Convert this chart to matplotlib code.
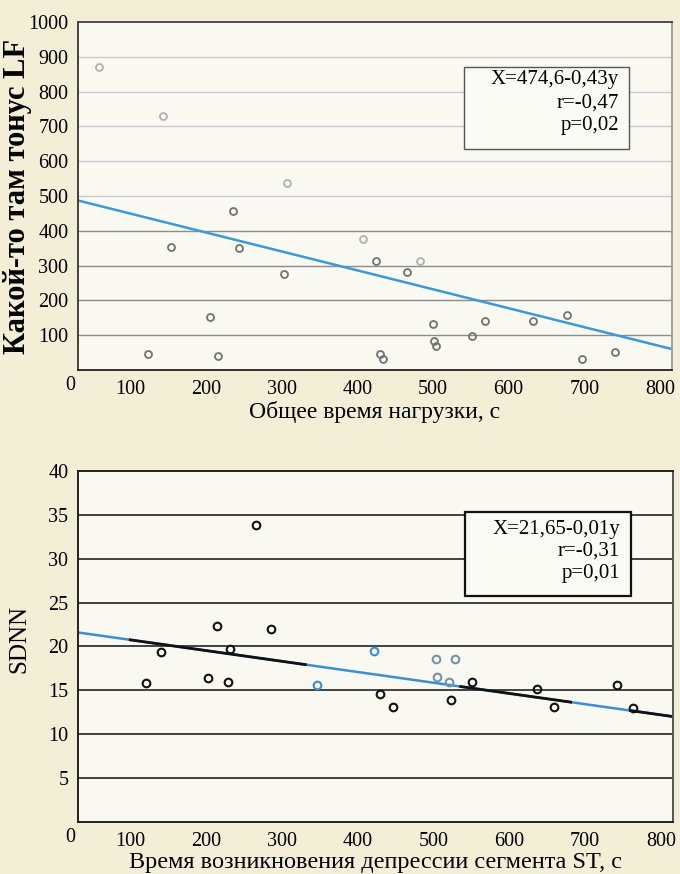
import matplotlib.pyplot as plt
from matplotlib.patches import Rectangle

# Top panel: total load time vs LF tone
load_time = [59, 144, 307, 236, 154, 244, 303, 206, 124, 216,
             408, 425, 483, 466, 500, 501, 504, 430, 434, 552,
             569, 632, 677, 697, 741]
lf_tone = [870, 729, 537, 457, 354, 351, 277, 151, 46, 40,
           377, 314, 314, 281, 131, 83, 69, 46, 31, 97,
           142, 142, 157, 31, 51]
lf_faint = [1, 1, 1, 0, 0, 0, 0, 0, 0, 0,
            1, 0, 1, 0, 0, 0, 0, 0, 0, 0,
            0, 0, 0, 0, 0]
top_trend_x = [31, 816]
top_trend_y = [487, 60]
top_text = "X=474,6-0,43y\nr=-0,47\np=0,02"

# Bottom panel: time of ST depression vs SDNN
st_time = [266, 214, 286, 140, 232, 121, 203, 229, 346, 421,
           503, 529, 505, 521, 551, 429, 447, 523, 637, 659,
           742, 763]
sdnn = [33.8, 22.3, 22.0, 19.4, 19.7, 15.8, 16.4, 15.95, 15.6, 19.5,
        18.6, 18.6, 16.5, 15.9, 15.9, 14.6, 13.1, 13.9, 15.2, 13.1,
        15.6, 13.0]
sdnn_group = [0, 0, 0, 0, 0, 0, 0, 0, 1, 1,
              2, 2, 2, 2, 0, 0, 0, 0, 0, 0,
              0, 0]
bottom_trend_x = [31, 817]
bottom_trend_y = [21.6, 12.0]
bottom_black_parts = [(100, 331), (536, 681), (760, 817)]
bottom_text = "X=21,65-0,01y\nr=-0,31\np=0,01"

plt.rcParams['font.family'] = ['Liberation Serif', 'DejaVu Serif']

fig = plt.figure(figsize=(6.8, 8.74), dpi=100)
fig.patch.set_facecolor('#f3eed6')

xticks = [100, 200, 300, 400, 500, 600, 700, 800]


def style_axes(ax, ylim, yticks):
    ax.set_facecolor('#f9f8f1')
    ax.set_xlim(31, 816)
    ax.set_ylim(*ylim)
    ax.set_xticks(xticks)
    ax.set_yticks(yticks)
    ax.tick_params(length=0, labelsize=14.5, pad=7)
    ax.annotate('0', xy=(0, 0), xycoords='axes fraction', xytext=(-2, -4),
                textcoords='offset points', ha='right', va='top', fontsize=14.5)


def trend_at(xs, ys, x):
    return ys[0] + (ys[1] - ys[0]) * (x - xs[0]) / (xs[1] - xs[0])


def stat_box(ax, rect, text_xy, text, edge, lw, spacing):
    ax.add_patch(Rectangle(rect[:2], rect[2], rect[3], transform=ax.transAxes,
                           fc='#fbfbf6', ec=edge, lw=lw, zorder=4))
    ax.text(text_xy[0], text_xy[1], text, transform=ax.transAxes, ha='right',
            va='top', fontsize=15, linespacing=spacing, zorder=5)


# ========== Top panel ==========
ax1 = fig.add_axes([0.1147, 0.5767, 0.8735, 0.3982])
style_axes(ax1, (0, 1000), range(100, 1001, 100))
for v in range(100, 1000, 100):
    ax1.axhline(v, color='#c9c9cf' if v >= 500 else '#8c8c8c', lw=1.0, zorder=1)
for s, c in [('top', '#3a3f55'), ('left', '#333333'), ('bottom', '#222222'), ('right', '#9a9a9a')]:
    ax1.spines[s].set_color(c)
    ax1.spines[s].set_linewidth(1.3)

ax1.plot(top_trend_x, top_trend_y, color='#3b9bd0', lw=1.8, zorder=2)
for x, y, f in zip(load_time, lf_tone, lf_faint):
    ax1.plot(x, y, 'o', mfc='none', mec='#b0b0b0' if f else '#727272',
             ms=5, mew=1.3, zorder=3)

stat_box(ax1, (0.65, 0.635, 0.278, 0.236), (0.911, 0.862), top_text,
         '#555555', 1.0, 1.3)

ax1.set_xlabel('Общее время нагрузки, с', fontsize=17, labelpad=2)
ax1.set_ylabel('Какой-то там тонус LF', fontsize=22, fontweight='bold')
ax1.yaxis.set_label_coords(-0.078, 0.5)

# ========== Bottom panel ==========
ax2 = fig.add_axes([0.1147, 0.0595, 0.875, 0.4016])
style_axes(ax2, (0, 40), range(5, 41, 5))
for v in range(5, 40, 5):
    ax2.axhline(v, color='#111111', lw=1.1, zorder=1)
for s in ['top', 'left', 'bottom', 'right']:
    ax2.spines[s].set_color('#222222' if s != 'right' else '#555555')
    ax2.spines[s].set_linewidth(1.4)

ax2.plot(bottom_trend_x, bottom_trend_y, color='#3a8fd4', lw=1.8, zorder=2)
for x0, x1 in bottom_black_parts:
    ax2.plot([x0, x1], [trend_at(bottom_trend_x, bottom_trend_y, x0),
                        trend_at(bottom_trend_x, bottom_trend_y, x1)],
             color='#111111', lw=2.0, zorder=2)

group_colors = ['#111111', '#3a8fd4', '#6f97a8']
for x, y, g in zip(st_time, sdnn, sdnn_group):
    ax2.plot(x, y, 'o', mfc='none', mec=group_colors[g], ms=5.5, mew=1.5, zorder=3)

stat_box(ax2, (0.65, 0.644, 0.279, 0.239), (0.911, 0.86), bottom_text,
         '#111111', 1.6, 1.2)

ax2.set_xlabel('Время возникновения депрессии сегмента ST, с', fontsize=17.5, labelpad=1)
ax2.set_ylabel('SDNN', fontsize=18)
ax2.yaxis.set_label_coords(-0.08, 0.52)

plt.savefig('out.png', dpi=100, facecolor=fig.get_facecolor())
